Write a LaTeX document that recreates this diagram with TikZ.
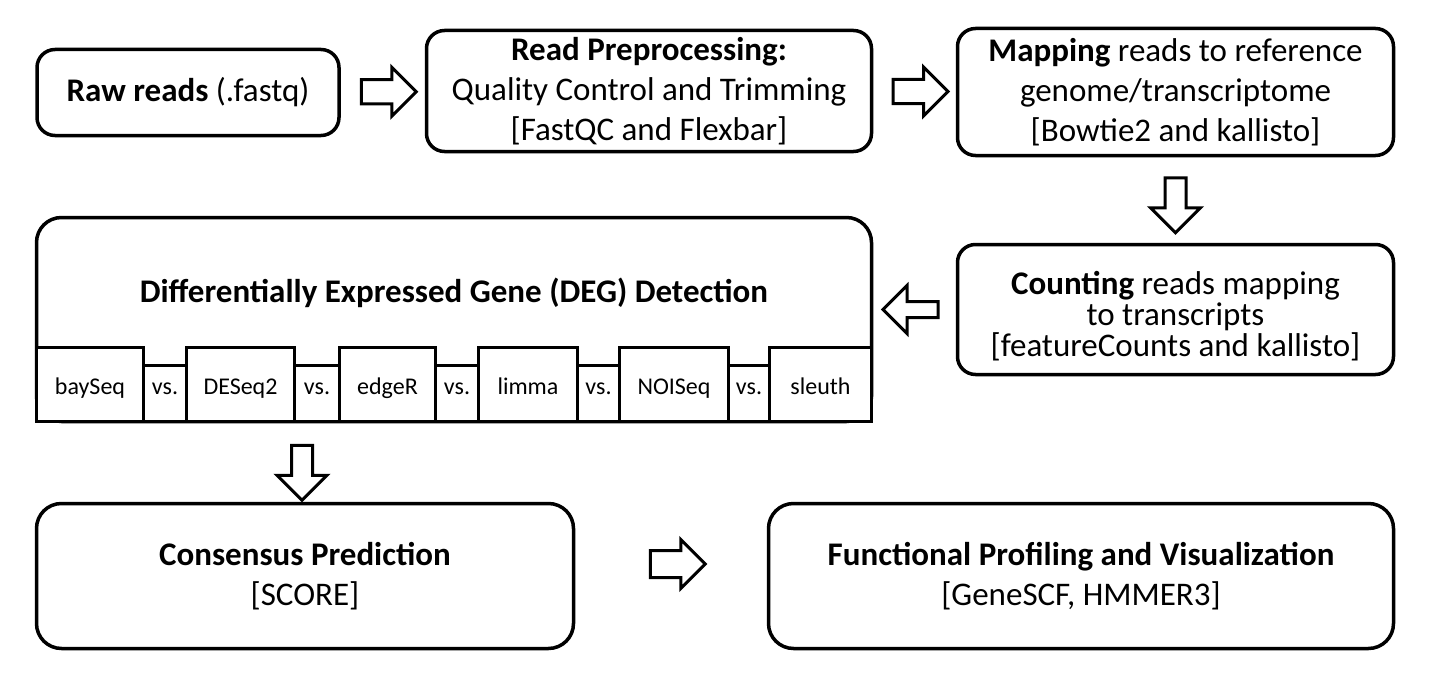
\documentclass[tikz,border=0pt]{standalone}
\usepackage{fontspec}
\setmainfont{Carlito}
\usetikzlibrary{shapes.arrows,calc,positioning}
\tikzset{
	stage/.style={draw, line width=3.5pt, rounded corners=18pt, align=center, inner sep=0pt, outer sep=0pt, font=\fontsize{33}{40}\selectfont},
	tool/.style={draw, line width=3.5pt, fill=white, inner sep=0pt, outer sep=0pt, anchor=south west, minimum height=74pt, text height=19pt, text depth=0pt, font=\fontsize{24}{28}\selectfont},
	versus/.style={tool, minimum height=56pt, text height=10pt, text depth=9pt},
	fatarrow/.style={single arrow, draw, line width=3pt, fill=white, inner sep=0pt, outer sep=0pt, minimum height=55pt, text depth=0pt},
	shaft/.style={text height=#1, text width=#1}
}
\begin{document}
\begin{tikzpicture}[x=1pt, y=-1pt]
	\useasboundingbox (0,0) rectangle (1430,685);
	% top row
	\node[stage, minimum width=302pt, minimum height=86pt] (raw) at (188,92.5) {\textbf{Raw reads} (.fastq)};
	\node[stage, minimum width=445pt, minimum height=121pt] (prep) at (649,91) {\textbf{Read Preprocessing:}\\Quality Control and Trimming\\{[FastQC and Flexbar]}};
	\node[stage, minimum width=436pt, minimum height=127pt] (map) at (1175.5,92) {\textbf{Mapping} reads to reference\\genome/transcriptome\\{[Bowtie2 and kallisto]}};
	\node[stage, minimum width=436pt, minimum height=130pt, font=\fontsize{33}{31}\selectfont] (count) at (1175.5,309.5) {\rule{0pt}{36pt}\textbf{Counting} reads mapping\\to transcripts\\{[featureCounts and kallisto]}};
	% DEG box with the tools
	\node[stage, rounded corners=25pt, minimum width=835pt, minimum height=204pt] (deg) at (454,319.5) {};
	\node[font=\fontsize{33}{40}\selectfont\bfseries] (degtitle) at (454,293) {Differentially Expressed Gene (DEG) Detection};
	\node[tool, minimum width=107pt] (bayseq) at (deg.south west) {baySeq};
	\node[versus, minimum width=43pt] (vs1) at (bayseq.south east) {vs.};
	\node[tool, minimum width=108pt] (deseq) at (vs1.south east) {DESeq2};
	\node[versus, minimum width=45pt] (vs2) at (deseq.south east) {vs.};
	\node[tool, minimum width=96pt] (edger) at (vs2.south east) {edgeR};
	\node[versus, minimum width=43pt] (vs3) at (edger.south east) {vs.};
	\node[tool, minimum width=99pt] (limma) at (vs3.south east) {limma};
	\node[versus, minimum width=42pt] (vs4) at (limma.south east) {vs.};
	\node[tool, minimum width=109pt] (noiseq) at (vs4.south east) {NOISeq};
	\node[versus, minimum width=41pt] (vs5) at (noiseq.south east) {vs.};
	\node[tool, minimum width=102pt] (sleuth) at (vs5.south east) {sleuth};
	% bottom row
	\node[stage, rounded corners=25pt, minimum width=537pt, minimum height=145pt] (cons) at (305,576) {\textbf{Consensus Prediction}\\{[SCORE]}};
	\node[stage, rounded corners=25pt, minimum width=625pt, minimum height=145pt] (func) at (1081,576) {\textbf{Functional Profiling and Visualization}\\{[GeneSCF, HMMER3]}};
	% arrows
	\node[fatarrow, shaft=21pt, minimum width=46pt, single arrow head extend=12.5pt] (raw2prep) at ($(raw.east)!0.5!(prep.west)$) {};
	\node[fatarrow, shaft=21pt, minimum width=46pt, single arrow head extend=12.5pt] (prep2map) at ($(prep.east)!0.5!(map.west)$) {};
	\node[fatarrow, shape border rotate=270, shaft=18pt, minimum width=47pt, single arrow head extend=14.5pt] (map2count) at ($(map.south)!0.5!(count.north)$) {};
	\node[fatarrow, shape border rotate=180, shaft=13pt, minimum width=45pt, single arrow head extend=16pt] (count2deg) at ($(count.west)!0.5!(count.west -| deg.east)$) {};
	\node[fatarrow, shape border rotate=270, shaft=18pt, minimum width=47pt, single arrow head extend=14.5pt, xshift=-3pt, yshift=-5pt] (deg2cons) at ($(cons.north)!0.5!(cons.north |- deg.south)$) {};
	\node[fatarrow, shaft=24pt, minimum width=46pt, single arrow head extend=11pt, yshift=12pt] (cons2func) at ($(cons.east)!0.5!(func.west)$) {};
\end{tikzpicture}
\end{document}
